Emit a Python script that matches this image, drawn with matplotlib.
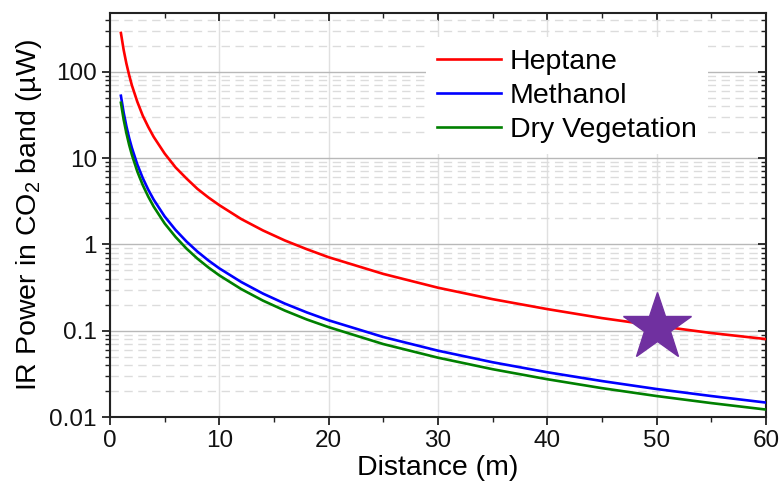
import matplotlib
matplotlib.use("Agg")
import matplotlib.pyplot as plt
from matplotlib.ticker import FixedLocator, FixedFormatter, LogLocator, NullFormatter, MultipleLocator

plt.rcParams['font.family'] = ['Liberation Sans', 'DejaVu Sans']
plt.rcParams['mathtext.fontset'] = 'custom'
plt.rcParams['mathtext.rm'] = 'Liberation Sans'
plt.rcParams['mathtext.it'] = 'Liberation Sans:italic'

distance = [1, 1.25, 1.5, 1.75, 2, 2.5, 3, 3.5, 4, 5, 6, 7, 8, 9, 10, 12, 14, 16, 18, 20,
            25, 30, 35, 40, 45, 50, 55, 60]
heptane = [282, 180, 125, 92, 70, 45, 31, 23, 17.6, 11.3, 7.8, 5.8, 4.4, 3.5, 2.85, 1.97,
           1.45, 1.11, 0.88, 0.71, 0.455, 0.315, 0.232, 0.178, 0.140, 0.114, 0.094, 0.080]
methanol = [52.8, 33.8, 23.5, 17.2, 13.2, 8.45, 5.87, 4.31, 3.30, 2.11, 1.47, 1.08, 0.825,
            0.652, 0.528, 0.367, 0.269, 0.206, 0.163, 0.132, 0.0845, 0.0587, 0.0431, 0.0330,
            0.0261, 0.0211, 0.0175, 0.0147]
dry_veg = [43.8, 28.0, 19.5, 14.3, 10.95, 7.0, 4.87, 3.58, 2.74, 1.75, 1.22, 0.894, 0.684,
           0.541, 0.438, 0.304, 0.223, 0.171, 0.135, 0.110, 0.070, 0.0487, 0.0358, 0.0274,
           0.0216, 0.0175, 0.0145, 0.0122]
star_x = [50]
star_y = [0.109]
yticks = [0.01, 0.1, 1, 10, 100]
ytick_labels = ['0.01', '0.1', '1', '10', '100']

fig = plt.figure(figsize=(7.81, 4.87), dpi=100)
ax = fig.add_axes([0.1408, 0.1437, 0.8400, 0.8296])

ax.plot(distance, heptane, color='#ff0000', lw=1.9, label='Heptane', zorder=3)
ax.plot(distance, methanol, color='#0000ff', lw=1.9, label='Methanol', zorder=3)
ax.plot(distance, dry_veg, color='#008000', lw=1.9, label='Dry Vegetation', zorder=3)
ax.plot(star_x, star_y, marker='*', color='#7030a0', markersize=51, ls='none', zorder=4)

ax.set_yscale('log')
ax.set_xlim(0, 60)
ax.set_ylim(0.01, 480)

ax.xaxis.set_major_locator(MultipleLocator(10))
ax.xaxis.set_minor_locator(MultipleLocator(5))
ax.yaxis.set_major_locator(FixedLocator(yticks))
ax.yaxis.set_major_formatter(FixedFormatter(ytick_labels))
ax.yaxis.set_minor_locator(LogLocator(base=10, subs=range(2, 10)))
ax.yaxis.set_minor_formatter(NullFormatter())

ax.grid(True, which='major', axis='x', color='#e0e0e0', lw=1.0, zorder=0)
ax.grid(True, which='major', axis='y', color='#b8b8b8', lw=1.0, zorder=0)
ax.grid(True, which='minor', axis='y', color='#dcdcdc', lw=1.0, ls=(0, (6, 4)), zorder=0)
ax.set_axisbelow(True)

for s in ax.spines.values():
    s.set_linewidth(1.5)
    s.set_color('#222222')

ax.tick_params(axis='both', which='major', labelsize=17.5, length=6, width=1.3, direction='out',
               colors='#222222', labelcolor='#111111')
ax.tick_params(axis='both', which='minor', length=3.5, width=1.0, direction='out', colors='#222222')
ax.tick_params(axis='x', which='both', top=True)
ax.tick_params(axis='y', which='both', right=True)
# mirrored ticks point inward
for t in ax.xaxis.get_major_ticks() + ax.xaxis.get_minor_ticks():
    t.tick2line.set_marker(3)
for t in ax.yaxis.get_major_ticks() + ax.yaxis.get_minor_ticks():
    t.tick2line.set_marker(0)

ax.set_xlabel('Distance (m)', fontsize=20.5, labelpad=2)
ax.set_ylabel('IR Power in CO$_2$ band (µW)', fontsize=20.5, labelpad=4)

leg = ax.legend(loc='upper left', bbox_to_anchor=(0.46, 0.975), fontsize=20.5, frameon=True,
                handlelength=2.25, handletextpad=0.3, labelspacing=0.28, borderpad=0.4)
leg.get_frame().set_edgecolor('none')
leg.get_frame().set_facecolor('white')
leg.get_frame().set_alpha(1.0)

fig.savefig('out.png', dpi=100)
